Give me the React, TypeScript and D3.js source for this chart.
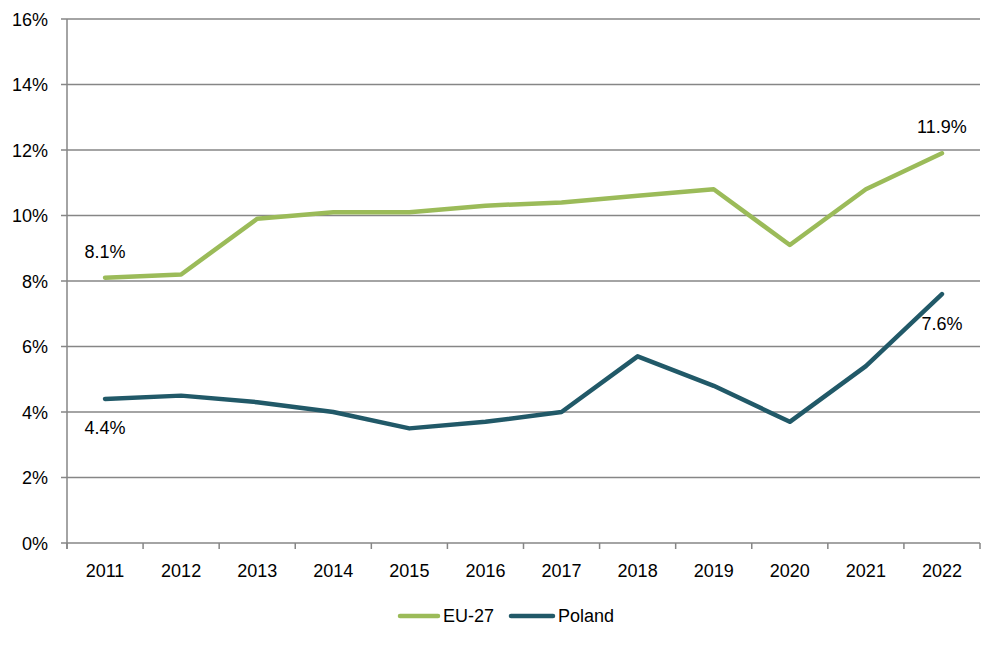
import React from 'react';
import * as d3 from 'd3';

// Share of population (%), 2011–2022: EU-27 vs Poland
const years = ['2011', '2012', '2013', '2014', '2015', '2016', '2017', '2018', '2019', '2020', '2021', '2022'];
const euValues = [8.1, 8.2, 9.9, 10.1, 10.1, 10.3, 10.4, 10.6, 10.8, 9.1, 10.8, 11.9];
const plValues = [4.4, 4.5, 4.3, 4.0, 3.5, 3.7, 4.0, 5.7, 4.8, 3.7, 5.4, 7.6];
const yTicks = [0, 2, 4, 6, 8, 10, 12, 14, 16];

const W = 1005;
const H = 648;
const LEFT = 67;
const RIGHT = 980;
const TOP = 19;
const BOTTOM = 543;
const FONT = '"Liberation Sans", Arial, sans-serif';
const FS = 18;
const GRID = '#868686';
const EU_COLOR = '#9BBB59';
const PL_COLOR = '#215968';

const App = () => {
  const x = d3.scaleBand().domain(years).range([LEFT, RIGHT]);
  const y = d3.scaleLinear().domain([0, 16]).range([BOTTOM, TOP]);
  const cx = (yr: string) => (x(yr) ?? 0) + x.bandwidth() / 2;

  const line = d3
    .line<number>()
    .x((_d, i) => cx(years[i]))
    .y((d) => y(d));

  const series = [
    { name: 'EU-27', values: euValues, color: EU_COLOR },
    { name: 'Poland', values: plValues, color: PL_COLOR },
  ];

  const last = years.length - 1;
  const labels = [
    { v: euValues[0], x: cx(years[0]), y: y(euValues[0]) - 20 },
    { v: plValues[0], x: cx(years[0]), y: y(plValues[0]) + 35 },
    { v: euValues[last], x: cx(years[last]), y: y(euValues[last]) - 20 },
    { v: plValues[last], x: cx(years[last]), y: y(plValues[last]) + 36 },
  ];

  const boundaries = years.map((yr) => x(yr) ?? 0).concat([RIGHT]);

  return (
    <svg width={W} height={H} style={{ position: 'absolute', left: 0, top: 0 }} fontFamily={FONT}>
      <rect width={W} height={H} fill="white" />
      {yTicks.map((t) => (
        <g key={t}>
          {t > 0 && <line x1={LEFT} x2={RIGHT} y1={y(t)} y2={y(t)} stroke={GRID} strokeWidth={1.5} />}
          <line x1={LEFT - 6} x2={LEFT} y1={y(t)} y2={y(t)} stroke={GRID} strokeWidth={1.5} />
          <text x={48} y={y(t) + 6.5} textAnchor="end" fontSize={FS} fill="#000">
            {t}%
          </text>
        </g>
      ))}
      <line x1={LEFT} x2={LEFT} y1={TOP} y2={BOTTOM + 6} stroke={GRID} strokeWidth={1.5} />
      <line x1={LEFT} x2={RIGHT} y1={BOTTOM} y2={BOTTOM} stroke={GRID} strokeWidth={1.5} />
      {boundaries.map((b, i) => (
        <line key={i} x1={b} x2={b} y1={BOTTOM} y2={BOTTOM + 6} stroke={GRID} strokeWidth={1.5} />
      ))}
      {years.map((yr) => (
        <text key={yr} x={cx(yr)} y={577} textAnchor="middle" fontSize={FS} fill="#000">
          {yr}
        </text>
      ))}
      {series.map((s) => (
        <path
          key={s.name}
          d={line(s.values) ?? ''}
          fill="none"
          stroke={s.color}
          strokeWidth={4.5}
          strokeLinejoin="round"
          strokeLinecap="round"
        />
      ))}
      {labels.map((l, i) => (
        <text key={i} x={l.x} y={l.y} textAnchor="middle" fontSize={FS} fill="#000">
          {l.v.toFixed(1)}%
        </text>
      ))}
      {/* legend */}
      <line x1={400} x2={438} y1={616} y2={616} stroke={EU_COLOR} strokeWidth={4.5} strokeLinecap="round" />
      <text x={443} y={622} fontSize={FS} fill="#000">EU-27</text>
      <line x1={511} x2={553} y1={616} y2={616} stroke={PL_COLOR} strokeWidth={4.5} strokeLinecap="round" />
      <text x={558} y={622} fontSize={FS} fill="#000">Poland</text>
    </svg>
  );
};

export default App;
